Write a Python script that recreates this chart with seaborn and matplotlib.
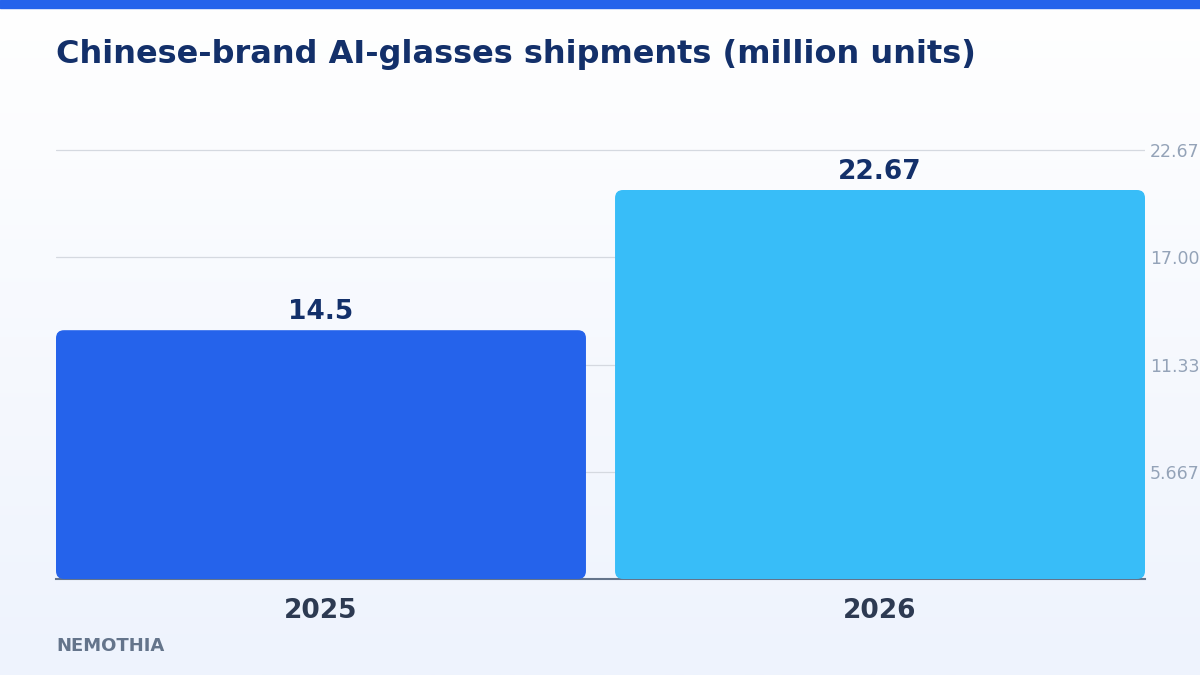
import numpy as np
import pandas as pd
import matplotlib
matplotlib.use("Agg")
import matplotlib.pyplot as plt
import seaborn as sns
from matplotlib.patches import FancyBboxPatch, Rectangle

# ---- data ----
years = ["2025", "2026"]
shipments = [14.5, 22.67]
bar_colors = ["#2563eb", "#38bdf8"]
tick_positions = [6.25, 12.5, 18.75, 25.0]
tick_labels = ["5.667", "11.33", "17.00", "22.67"]
title = "Chinese-brand AI-glasses shipments (million units)"
brand = "NEMOTHIA"

sns.set_theme(style="white")
plt.rcParams['font.family'] = ['DejaVu Sans']

W, H = 1200, 675
fig = plt.figure(figsize=(W / 100, H / 100), dpi=100)

# background gradient
bg = fig.add_axes([0, 0, 1, 1], zorder=-10)
grad = np.linspace(0, 1, 256).reshape(-1, 1)
top_c = np.array([1.0, 1.0, 1.0])
bot_c = np.array([0xee, 0xf3, 0xfd]) / 255.0
img = top_c + (bot_c - top_c) * grad
bg.imshow(img.reshape(256, 1, 3), aspect="auto", extent=[0, 1, 0, 1])
bg.set_xlim(0, 1); bg.set_ylim(0, 1)
bg.axis("off")
bg.add_patch(Rectangle((0, 1 - 8 / H), 1, 8 / H, color="#2563eb", transform=bg.transAxes))

# plot axes
x0, x1 = 56, 1145
yb, yt = 579, 110
ax = fig.add_axes([x0 / W, (H - yb) / H, (x1 - x0) / W, (yb - yt) / H])
ax.patch.set_alpha(0)

df = pd.DataFrame({"year": years, "value": shipments})
bw = 0.948
sns.barplot(data=df, x="year", y="value", hue="year", palette=bar_colors,
            width=bw, saturation=1, legend=False, ax=ax, zorder=3)
ax.set_xlim(-bw / 2, 1 + bw / 2)
ymax = (yb - yt) / 389 * 22.67
ax.set_ylim(0, ymax)

# rounded bars
px_x = (x1 - x0) / (1 + bw)
px_y = (yb - yt) / ymax
r_px = 8
for p in list(ax.patches):
    bx, by = p.get_x(), p.get_y()
    w, h = p.get_width(), p.get_height()
    fc = p.get_facecolor()
    p.remove()
    fb = FancyBboxPatch((bx, by), w, h,
                        boxstyle=f"round,pad=0,rounding_size={r_px / px_x}",
                        mutation_aspect=px_x / px_y,
                        facecolor=fc, edgecolor="none", zorder=3)
    ax.add_patch(fb)

for i, v in enumerate(shipments):
    ax.text(i, v + 5 / px_y, f"{v:g}", ha="center", va="bottom",
            fontsize=19, fontweight="bold", color="#13306a", zorder=5)

# grid & ticks
ax.set_yticks(tick_positions)
ax.set_yticklabels(tick_labels)
ax.yaxis.tick_right()
ax.tick_params(axis="y", length=0, pad=3.5, labelsize=12.5, labelcolor="#94a3b8")
for t in tick_positions:
    ax.axhline(t, color="#d5d9e0", lw=0.9, zorder=1)
ax.tick_params(axis="x", length=0, pad=14, labelsize=19, labelcolor="#2d3a52")
for lab in ax.get_xticklabels():
    lab.set_fontweight("bold")
ax.set_xlabel(""); ax.set_ylabel("")
for s in ["top", "right", "left"]:
    ax.spines[s].set_visible(False)
ax.spines["bottom"].set_color("#64748b")
ax.spines["bottom"].set_linewidth(1.5)
ax.spines["bottom"].set_zorder(2)

fig.text(56 / W, 1 - 54 / H, title, ha="left", va="center",
         fontsize=23, fontweight="bold", color="#13306a")
fig.text(56 / W, 1 - 646 / H, brand, ha="left", va="center",
         fontsize=13, fontweight="bold", color="#64748b")

fig.savefig("out.png", dpi=100)
